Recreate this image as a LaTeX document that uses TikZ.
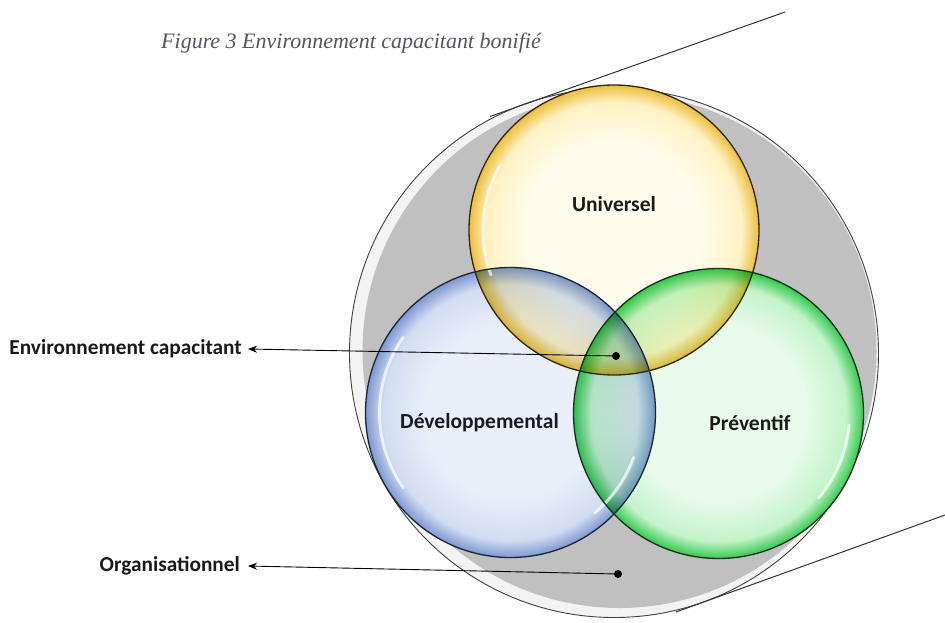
\documentclass[tikz,border=0pt]{standalone}
\usepackage{fontspec}
\setmainfont{Carlito}
\newfontfamily\capfont{Liberation Serif}
\usetikzlibrary{arrows.meta}
\definecolor{txt}{HTML}{1A1A1A}
\definecolor{capc}{HTML}{55555F}
\definecolor{outerfill}{HTML}{F3F3F3}
\definecolor{graydisc}{HTML}{C0C0C0}
\definecolor{rimY}{HTML}{2E2610}
\definecolor{rimB}{HTML}{1C2436}
\definecolor{rimG}{HTML}{12301A}
\definecolor{yIn}{HTML}{FFFCEB}
\definecolor{yMid}{HTML}{FFF2C4}
\definecolor{yRim}{HTML}{EDBE3C}
\definecolor{bIn}{HTML}{E9EEF9}
\definecolor{bMid}{HTML}{D2DDF1}
\definecolor{bRim}{HTML}{7C99D2}
\definecolor{gIn}{HTML}{E8FBEA}
\definecolor{gMid}{HTML}{C4F3CA}
\definecolor{gRim}{HTML}{34CA4E}
\pgfdeclareradialshading{ballY}{\pgfpoint{0bp}{0bp}}{color(0bp)=(yIn); color(15bp)=(yIn); color(22bp)=(yMid); color(25bp)=(yRim); color(50bp)=(yRim)}
\pgfdeclareradialshading{ballB}{\pgfpoint{0bp}{0bp}}{color(0bp)=(bIn); color(15bp)=(bIn); color(22bp)=(bMid); color(25bp)=(bRim); color(50bp)=(bRim)}
\pgfdeclareradialshading{ballG}{\pgfpoint{0bp}{0bp}}{color(0bp)=(gIn); color(15bp)=(gIn); color(22bp)=(gMid); color(25bp)=(gRim); color(50bp)=(gRim)}
\begin{document}
\begin{tikzpicture}[x=1pt,y=-1pt,
  lab/.style={font=\fontsize{21.5}{25}\selectfont\bfseries, text=txt, inner sep=0pt},
  sidelab/.style={font=\fontsize{21.3}{25}\selectfont\bfseries, text=txt, inner sep=0pt, anchor=east},
  caption/.style={font=\capfont\itshape\fontsize{22}{26}\selectfont, text=capc, inner sep=0pt},
  dotnode/.style={circle, fill=black, inner sep=0pt, minimum size=8pt},
  pointer/.style={draw=black, line width=0.9pt, -{Stealth[length=9pt,width=7pt]}},
  rim/.style={line width=1.3pt},
  cone/.style={draw=black!80, line width=1pt},
  gloss/.style={draw=white, line width=3pt, draw opacity=0.7, line cap=round}]
\fill[white] (0,0) rectangle (945,622);
\useasboundingbox (0,0) rectangle (945,622);
\coordinate (O) at (614,353);
\coordinate (Gd) at (619.5,351);
\coordinate (Yc) at (614,230);
\coordinate (Bc) at (510.5,412.5);
\coordinate (Gc) at (718.5,413.5);
% outer disc
\fill[outerfill] (O) circle[radius=264.5pt];
\fill[graydisc] (Gd) circle[radius=257pt];
\draw[black!75, line width=0.9pt] (O) circle[radius=264.5pt];
% balls
\fill[white] (Yc) circle[radius=145pt] (Bc) circle[radius=145pt] (Gc) circle[radius=145pt];
\begin{scope}[blend mode=multiply]
\shade[shading=ballY] (Yc) circle[radius=145pt];
\shade[shading=ballB] (Bc) circle[radius=145pt];
\shade[shading=ballG] (Gc) circle[radius=145pt];
\end{scope}
\draw[gloss] ([shift={(200:131pt)}]Yc) arc[start angle=200, end angle=150, radius=131pt];
\draw[gloss] ([shift={(215:131pt)}]Bc) arc[start angle=215, end angle=145, radius=131pt];
\draw[gloss] ([shift={(-20:131pt)}]Bc) arc[start angle=-20, end angle=-50, radius=131pt];
\draw[gloss] ([shift={(-5:131pt)}]Gc) arc[start angle=-5, end angle=-40, radius=131pt];
\draw[rim, draw=rimY] (Yc) circle[radius=145pt];
\draw[rim, draw=rimB] (Bc) circle[radius=145pt];
\draw[rim, draw=rimG] (Gc) circle[radius=145pt];
% cone lines
\coordinate (c1a) at (785,12);
\coordinate (c1b) at (490,116.5);
\coordinate (c2a) at (945,515);
\coordinate (c2b) at (676,612);
\draw[cone] (c1a) -- (c1b);
\draw[cone] (c2a) -- (c2b);
% labels
\node[caption] (cap) at (351,43) {Figure 3 Environnement capacitant bonifié};
\node[lab] (lU) at (614,204) {Universel};
\node[lab] (lD) at (479.5,423) {Développemental};
\node[lab] (lP) at (750,423) {Préventif};
\node[sidelab] (lEC) at (242,349) {Environnement capacitant};
\node[sidelab] (lOrg) at (240,566) {Organisationnel};
\node[dotnode] (dEC) at (616,356) {};
\node[dotnode] (dOrg) at (618,574) {};
\draw[pointer] (dEC.center) -- ([xshift=6pt]lEC.east);
\draw[pointer] (dOrg.center) -- ([xshift=8pt]lOrg.east);
\end{tikzpicture}
\end{document}
